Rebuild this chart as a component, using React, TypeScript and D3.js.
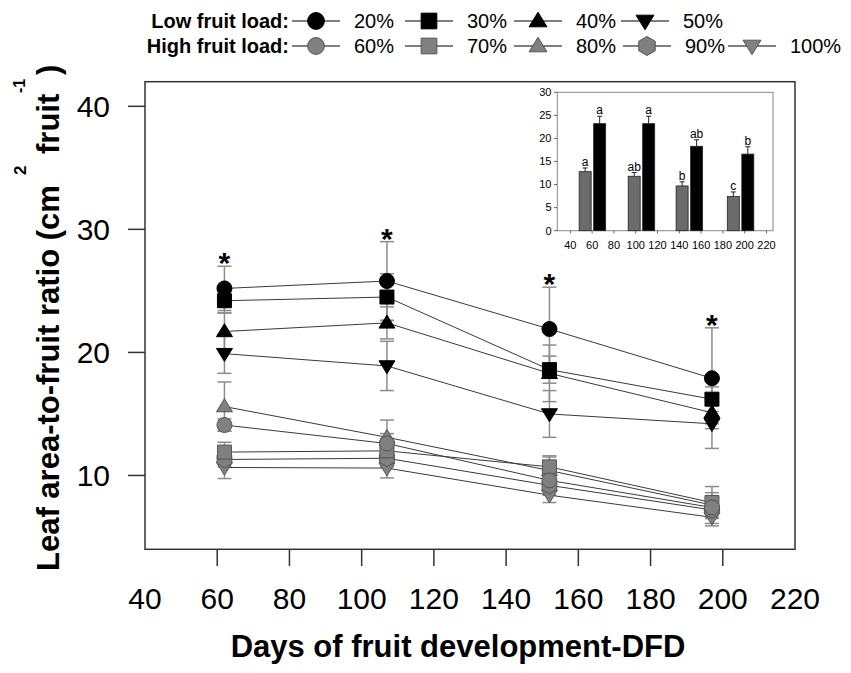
import React from 'react'
import * as d3 from 'd3'

// sampling days (main plot)
const days = [62, 107, 152, 197]

// low fruit load series (cm2 per fruit) and their errors
const low20 = [25.2, 25.8, 21.9, 17.9]
const low20Err = [1.8, 3.2, 3.4, 4.1]
const low30 = [24.2, 24.5, 18.6, 16.2]
const low30Err = [1.0, 1.9, 1.1, 1.0]
const low40 = [21.7, 22.4, 18.3, 15.1]
const low40Err = [1.5, 1.3, 2.3, 0.9]
const low50 = [19.9, 18.9, 15.0, 14.2]
const low50Err = [1.6, 2.0, 1.9, 2.0]

// high fruit load series
const high60 = [14.1, 12.6, 9.6, 7.4]
const high60Err = [0.5, 0.8, 0.9, 0.8]
const high70 = [11.9, 12.0, 10.7, 7.8]
const high70Err = [0.8, 1.0, 0.9, 0.8]
const high80 = [15.6, 13.1, 10.4, 7.6]
const high80Err = [2.0, 1.4, 1.1, 1.5]
const high90 = [11.3, 11.4, 9.2, 7.2]
const high90Err = [0.6, 0.7, 0.8, 0.7]
const high100 = [10.65, 10.6, 8.4, 6.6]
const high100Err = [0.9, 0.8, 0.6, 0.7]

const xTicks = [40, 60, 80, 100, 120, 140, 160, 180, 200, 220]
const yTicks = [10, 20, 30, 40]

// inset bars
const insetDays = [60, 105, 149, 196]
const insetHigh = [12.8, 11.8, 9.7, 7.4]
const insetHighErr = [0.8, 0.8, 0.9, 1.0]
const insetHighLetters = ['a', 'ab', 'b', 'c']
const insetLow = [23.2, 23.2, 18.3, 16.6]
const insetLowErr = [1.6, 1.6, 1.4, 1.6]
const insetLowLetters = ['a', 'a', 'ab', 'b']
const insetYTicks = [0, 5, 10, 15, 20, 25, 30]

type Shape = 'circle' | 'square' | 'up' | 'down' | 'hex'

const GRAY = '#808080'
const FONT = '"Liberation Sans", Arial, sans-serif'

const series = [
  { label: '20%', values: low20, err: low20Err, shape: 'circle' as Shape, fill: '#000' },
  { label: '30%', values: low30, err: low30Err, shape: 'square' as Shape, fill: '#000' },
  { label: '40%', values: low40, err: low40Err, shape: 'up' as Shape, fill: '#000' },
  { label: '50%', values: low50, err: low50Err, shape: 'down' as Shape, fill: '#000' },
  { label: '60%', values: high60, err: high60Err, shape: 'circle' as Shape, fill: GRAY },
  { label: '70%', values: high70, err: high70Err, shape: 'square' as Shape, fill: GRAY },
  { label: '80%', values: high80, err: high80Err, shape: 'up' as Shape, fill: GRAY },
  { label: '90%', values: high90, err: high90Err, shape: 'hex' as Shape, fill: GRAY },
  { label: '100%', values: high100, err: high100Err, shape: 'down' as Shape, fill: GRAY },
]

// marker path centred on 0,0
function markerPath(shape: Shape, k = 1): string {
  if (shape === 'circle') return d3.symbol(d3.symbolCircle, Math.PI * (7.5 * k) ** 2)()!
  if (shape === 'square') return d3.symbol(d3.symbolSquare, (14 * k) ** 2)()!
  const w = 16 * k
  const h = 13 * k
  if (shape === 'up') return `M0,${-h * 0.6}L${w / 2},${h * 0.4}L${-w / 2},${h * 0.4}Z`
  if (shape === 'down') return `M0,${h * 0.6}L${w / 2},${-h * 0.4}L${-w / 2},${-h * 0.4}Z`
  const r = 8.5 * k
  const pts = d3.range(6).map((i) => {
    const a = Math.PI / 2 + (i * Math.PI) / 3
    return [r * Math.cos(a), r * Math.sin(a)]
  })
  return 'M' + pts.map((p) => p.join(',')).join('L') + 'Z'
}

const Marker: React.FC<{ shape: Shape; fill: string; cx: number; cy: number; k?: number }> = ({ shape, fill, cx, cy, k }) => (
  <path
    d={markerPath(shape, k)}
    transform={`translate(${cx},${cy})`}
    fill={fill}
    stroke={fill === '#000' ? '#000' : '#555'}
    strokeWidth={1}
  />
)

const App: React.FC = () => {
  const x = d3.scaleLinear().domain([40, 220]).range([145, 795])
  const y = d3.scaleLinear().domain([4, 42]).range([549.3, 81.7])
  const line = d3
    .line<number>()
    .x((_, i) => x(days[i]))
    .y((d) => y(d))

  const ix = d3.scaleLinear().domain([28, 226]).range([557.3, 773])
  const iy = d3.scaleLinear().domain([0, 30]).range([230.7, 92.3])

  // legend layout
  const legendRows = [
    { title: 'Low fruit load:', items: series.slice(0, 4), baseline: 28, cx: [316, 429, 538, 645] },
    { title: 'High fruit load:', items: series.slice(4), baseline: 53, cx: [316, 429, 538, 647, 752] },
  ]

  return (
    <svg
      width={851}
      height={673}
      style={{ position: 'absolute', left: 0, top: 0, background: '#fff' }}
      fontFamily={FONT}
    >
      {/* legend */}
      {legendRows.map((row) => (
        <g key={row.title}>
          <text x={289} y={row.baseline} textAnchor="end" fontSize={20} fontWeight="bold">
            {row.title}
          </text>
          {row.items.map((s, i) => (
            <g key={s.label}>
              <line x1={row.cx[i] - 24} x2={row.cx[i] + 24} y1={row.baseline - 7} y2={row.baseline - 7} stroke="#555" strokeWidth={1.5} />
              <Marker shape={s.shape} fill={s.fill} cx={row.cx[i]} cy={row.baseline - 7} k={1.12} />
              <text x={row.cx[i] + 38} y={row.baseline} fontSize={20}>
                {s.label}
              </text>
            </g>
          ))}
        </g>
      ))}

      {/* main frame */}
      <rect x={145} y={81.7} width={650} height={467.6} fill="none" stroke="#333" strokeWidth={1.5} />

      {/* y axis */}
      {yTicks.map((t) => (
        <g key={t}>
          <line x1={128} x2={145} y1={y(t)} y2={y(t)} stroke="#333" strokeWidth={1.5} />
          <text x={110} y={y(t)} dy="0.36em" textAnchor="end" fontSize={30}>
            {t}
          </text>
        </g>
      ))}
      {/* x axis */}
      {xTicks.map((t) => (
        <g key={t}>
          {t > 40 && t < 220 && <line x1={x(t)} x2={x(t)} y1={549.3} y2={566} stroke="#333" strokeWidth={1.5} />}
          <text x={x(t)} y={609} textAnchor="middle" fontSize={30}>
            {t}
          </text>
        </g>
      ))}
      <text x={458} y={657} textAnchor="middle" fontSize={31} fontWeight="bold">
        Days of fruit development-DFD
      </text>
      <g transform="translate(59,571) rotate(-90)" fontWeight="bold">
        <text x={0} y={0} fontSize={31}>
          Leaf area-to-fruit ratio (cm
        </text>
        <text x={396} y={-33} fontSize={17}>
          2
        </text>
        <text x={417} y={0} fontSize={31}>
          fruit
        </text>
        <text x={478} y={-34} fontSize={16}>
          -1
        </text>
        <text x={496} y={0} fontSize={31}>
          )
        </text>
      </g>

      {/* error bars */}
      {series.map((s) => (
        <g key={'e' + s.label} stroke="#8c8c8c" strokeWidth={1.5}>
          {s.values.map((v, i) => {
            const cx = x(days[i])
            const top = y(v + s.err[i])
            const bot = y(v - s.err[i])
            return (
              <g key={i}>
                <line x1={cx} x2={cx} y1={top} y2={bot} />
                <line x1={cx - 7} x2={cx + 7} y1={top} y2={top} />
                <line x1={cx - 7} x2={cx + 7} y1={bot} y2={bot} />
              </g>
            )
          })}
        </g>
      ))}

      {/* connecting lines */}
      {series.map((s) => (
        <path key={'l' + s.label} d={line(s.values)!} fill="none" stroke="#3a3a3a" strokeWidth={1} />
      ))}

      {/* markers, high load first so the black ones sit on top */}
      {[...series].reverse().map((s) =>
        s.values.map((v, i) => <Marker key={s.label + i} shape={s.shape} fill={s.fill} cx={x(days[i])} cy={y(v)} />)
      )}

      {/* significance asterisks above the 20% error bars */}
      {days.map((d, i) => (
        <text key={'a' + d} x={x(d)} y={y(low20[i] + low20Err[i]) + 7} textAnchor="middle" fontSize={30} fontWeight="bold">
          *
        </text>
      ))}

      {/* inset */}
      <rect x={557.3} y={92.3} width={215.7} height={138.4} fill="#fff" stroke="#888" strokeWidth={1} />
      {insetYTicks.map((t) => (
        <g key={'iy' + t}>
          <line x1={554} x2={557.3} y1={iy(t)} y2={iy(t)} stroke="#666" />
          <text x={551.5} y={iy(t)} dy="0.35em" textAnchor="end" fontSize={11} fill="#000">
            {t}
          </text>
        </g>
      ))}
      {xTicks.map((t) => (
        <g key={'ix' + t}>
          <line x1={ix(t)} x2={ix(t)} y1={230.7} y2={233.5} stroke="#666" />
          <text x={ix(t)} y={249} textAnchor="middle" fontSize={11} fill="#000">
            {t}
          </text>
        </g>
      ))}
      {insetDays.map((d, i) => {
        const bars = [
          { v: insetHigh[i], e: insetHighErr[i], l: insetHighLetters[i], x0: ix(d) - 13, fill: '#6b6b6b' },
          { v: insetLow[i], e: insetLowErr[i], l: insetLowLetters[i], x0: ix(d) + 1.5, fill: '#000' },
        ]
        return bars.map((b, j) => {
          const c = b.x0 + 6
          return (
            <g key={d + '-' + j}>
              <rect x={b.x0} y={iy(b.v)} width={12} height={iy(0) - iy(b.v)} fill={b.fill} stroke="#222" strokeWidth={0.8} />
              <line x1={c} x2={c} y1={iy(b.v + b.e)} y2={iy(b.v)} stroke="#222" strokeWidth={1} />
              <line x1={c - 2.5} x2={c + 2.5} y1={iy(b.v + b.e)} y2={iy(b.v + b.e)} stroke="#222" strokeWidth={1} />
              <text x={c} y={iy(b.v + b.e) - 2} textAnchor="middle" fontSize={12} fill="#000">
                {b.l}
              </text>
            </g>
          )
        })
      })}
    </svg>
  )
}

export default App
